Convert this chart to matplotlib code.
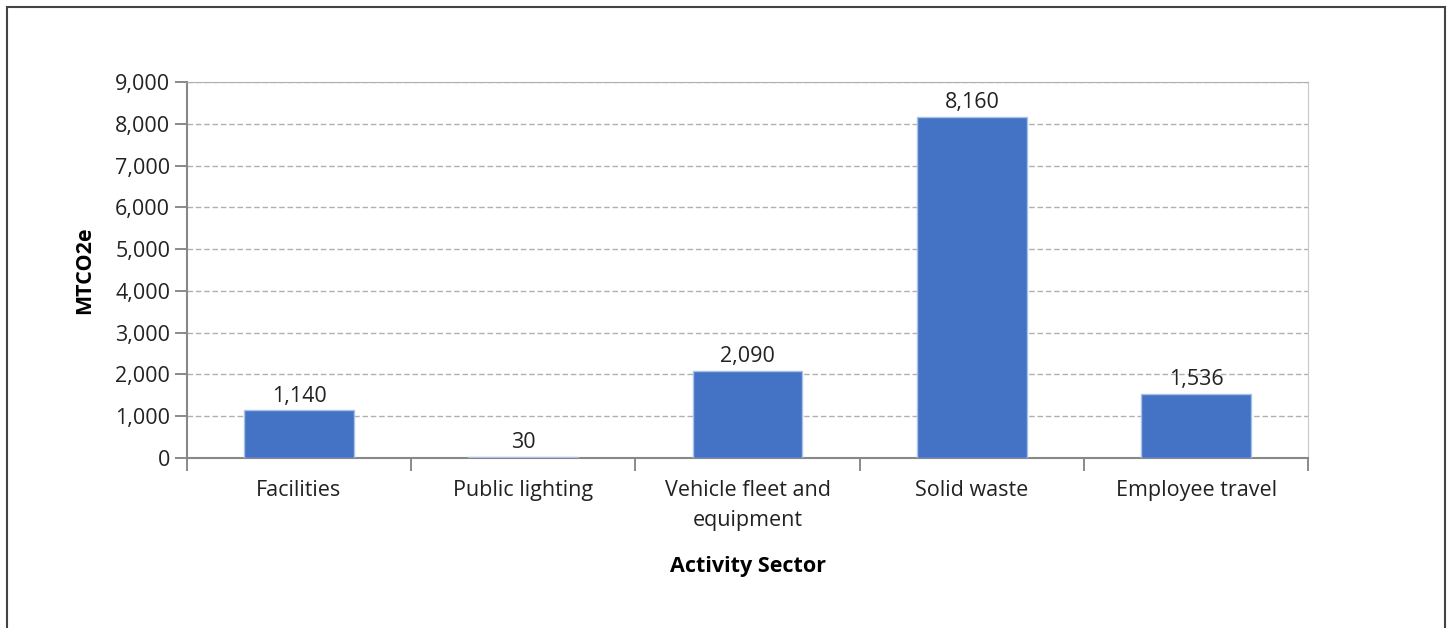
import matplotlib.pyplot as plt
from matplotlib.patches import Rectangle
from matplotlib.ticker import FuncFormatter, FixedLocator, NullFormatter

sectors = ['Facilities', 'Public lighting', 'Vehicle fleet and\nequipment',
           'Solid waste', 'Employee travel']
emissions = [1140, 30, 2090, 8160, 1536]
y_ticks = [0, 1000, 2000, 3000, 4000, 5000, 6000, 7000, 8000, 9000]

plt.rcParams['font.family'] = ['Open Sans', 'DejaVu Sans']
FS = 15.5

fig = plt.figure(figsize=(14.48, 6.28), dpi=100)
ax = fig.add_axes([0.129, 0.2707, 0.7745, 0.5987])

x = list(range(len(sectors)))
bars = ax.bar(x, emissions, width=0.49, color='#4472C4',
              edgecolor='#a9c1ea', linewidth=1.0, zorder=3)

for rect, val in zip(bars, emissions):
    ax.text(rect.get_x() + rect.get_width() / 2, val + 90, f'{val:,}',
            ha='center', va='bottom', fontsize=FS, color='#222222', zorder=4)

ax.set_xlim(-0.5, len(sectors) - 0.5)
ax.set_ylim(0, 9000)
ax.set_yticks(y_ticks)
ax.yaxis.set_major_formatter(FuncFormatter(lambda v, p: f'{int(v):,}'))

# category labels centred, tick marks at the boundaries
ax.set_xticks(x)
ax.set_xticklabels(sectors, fontsize=FS, color='#222222', linespacing=1.55)
ax.tick_params(axis='x', which='major', length=0, pad=16)
ax.xaxis.set_minor_locator(FixedLocator([i - 0.5 for i in range(len(sectors) + 1)]))
ax.xaxis.set_minor_formatter(NullFormatter())
ax.tick_params(axis='x', which='minor', length=9, width=1.2, color='#777777')
ax.tick_params(axis='y', length=9, width=1.2, color='#777777',
               labelsize=FS, labelcolor='#222222', pad=3)

ax.grid(axis='y', linestyle=(0, (4, 2)), color='#b0b0b0', linewidth=1.0, zorder=0)
ax.spines['left'].set_color('#888888')
ax.spines['left'].set_linewidth(1.5)
ax.spines['bottom'].set_color('#888888')
ax.spines['bottom'].set_linewidth(1.5)
ax.spines['right'].set_color('#c8c8c8')
ax.spines['top'].set_color('#b0b0b0')

ax.set_ylabel('MTCO2e', fontsize=FS, fontweight='bold', labelpad=14)
ax.set_xlabel('Activity Sector', fontsize=FS, fontweight='bold', labelpad=18)

# thin frame around the whole figure
fig.patches.append(Rectangle((7 / 1448, -0.1), 1438 / 1448, 1.1 - 7 / 628,
                             transform=fig.transFigure, fill=False,
                             edgecolor='#444444', linewidth=1.5))

fig.savefig('out.png', dpi=100)
plt.close(fig)
